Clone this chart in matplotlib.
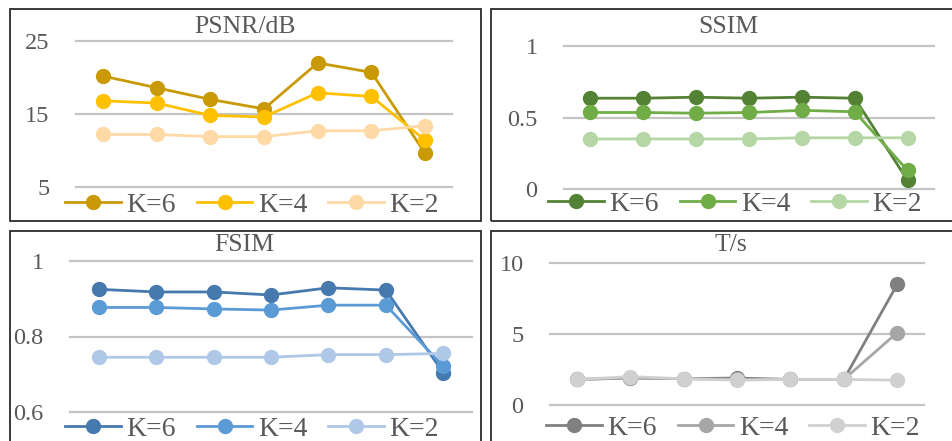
import matplotlib.pyplot as plt
from matplotlib.patches import Rectangle

plt.rcParams['font.family'] = ['Liberation Serif', 'DejaVu Serif']

W, H = 952, 441

# data, 7 points per series
x = list(range(7))
labels = ["K=6", "K=4", "K=2"]

psnr_k6 = [20.2, 18.6, 17.0, 15.7, 22.0, 20.7, 9.6]
psnr_k4 = [16.8, 16.5, 14.8, 14.6, 17.9, 17.4, 11.4]
psnr_k2 = [12.2, 12.2, 11.9, 11.9, 12.7, 12.7, 13.4]

ssim_k6 = [0.635, 0.635, 0.642, 0.635, 0.642, 0.635, 0.06]
ssim_k4 = [0.535, 0.535, 0.53, 0.535, 0.55, 0.54, 0.13]
ssim_k2 = [0.35, 0.35, 0.35, 0.35, 0.358, 0.358, 0.358]

fsim_k6 = [0.925, 0.918, 0.918, 0.91, 0.929, 0.923, 0.704]
fsim_k4 = [0.877, 0.877, 0.873, 0.87, 0.883, 0.883, 0.721]
fsim_k2 = [0.745, 0.745, 0.745, 0.745, 0.752, 0.752, 0.755]

time_k6 = [1.8, 1.9, 1.85, 1.9, 1.8, 1.8, 8.5]
time_k4 = [1.8, 1.9, 1.85, 1.8, 1.8, 1.8, 5.1]
time_k2 = [1.8, 2.0, 1.85, 1.75, 1.8, 1.8, 1.75]

fig = plt.figure(figsize=(W / 100, H / 100), dpi=100)


def fx(px):
    return px / W


def fy(py):
    return 1 - py / H


# panel borders (pixel coords: left, top, right, bottom)
for l, t, r, b in [(10, 9, 481, 221), (491, 9, 960, 221),
                   (10, 231, 481, 450), (491, 231, 960, 450)]:
    fig.patches.append(Rectangle((fx(l), fy(b)), fx(r - l), (b - t) / H,
                                 transform=fig.transFigure, fill=False,
                                 edgecolor='#2b2b2b', linewidth=1.3))

panels = [
    # title, series, colors, yticks, axes px (l, top, r, bottom), title pos, legend pos
    ("PSNR/dB", [psnr_k6, psnr_k4, psnr_k2], ['#C99A06', '#FFC000', '#FFD9A6'],
     [5, 15, 25], (76, 41, 452, 187), (245, 27), (252, 205)),
    ("SSIM", [ssim_k6, ssim_k4, ssim_k2], ['#548235', '#70AD47', '#B5D7A5'],
     [0, 0.5, 1], (564, 46, 934, 189), (728, 27), (735, 204)),
    ("FSIM", [fsim_k6, fsim_k4, fsim_k2], ['#4679AE', '#5B9BD5', '#AFC8E7'],
     [0.6, 0.8, 1], (70, 261, 472, 412), (244, 245), (252, 429)),
    ("T/s", [time_k6, time_k4, time_k2], ['#808080', '#A6A6A6', '#D0D0D0'],
     [0, 5, 10], (550, 263, 924, 405), (731, 245), (733, 428)),
]

for title, series, colors, yt, (l, t, r, b), (tx, ty), (lx, ly) in panels:
    ax = fig.add_axes([fx(l), fy(b), fx(r - l), (b - t) / H])
    ax.set_xlim(-0.5, 6.5)
    ax.set_ylim(yt[0], yt[-1])
    ax.set_yticks(yt)
    ax.set_yticklabels([f"{v:g}" for v in yt])
    ax.set_xticks([])
    for s in ax.spines.values():
        s.set_visible(False)
    ax.tick_params(axis='y', length=0, pad=19, labelsize=17.5, labelcolor='#595959')
    for v in yt:
        ax.axhline(v, color='#C4C4C4', linewidth=1.6, zorder=1, clip_on=False)
    for vals, c, lab in zip(series, colors, labels):
        ax.plot(x, vals, color=c, linewidth=2, marker='o', markersize=10,
                label=lab, clip_on=False, zorder=3)
    fig.text(fx(tx), fy(ty), title, ha='center', va='center',
             fontsize=18.5, color='#595959')
    fig.legend(*ax.get_legend_handles_labels(), loc='center', ncol=3,
               bbox_to_anchor=(fx(lx), fy(ly)), bbox_transform=fig.transFigure,
               frameon=False, fontsize=20, labelcolor='#595959',
               handlelength=2.0, handletextpad=0.2, columnspacing=0.75,
               borderpad=0, borderaxespad=0)

fig.savefig('out.png', dpi=100)
